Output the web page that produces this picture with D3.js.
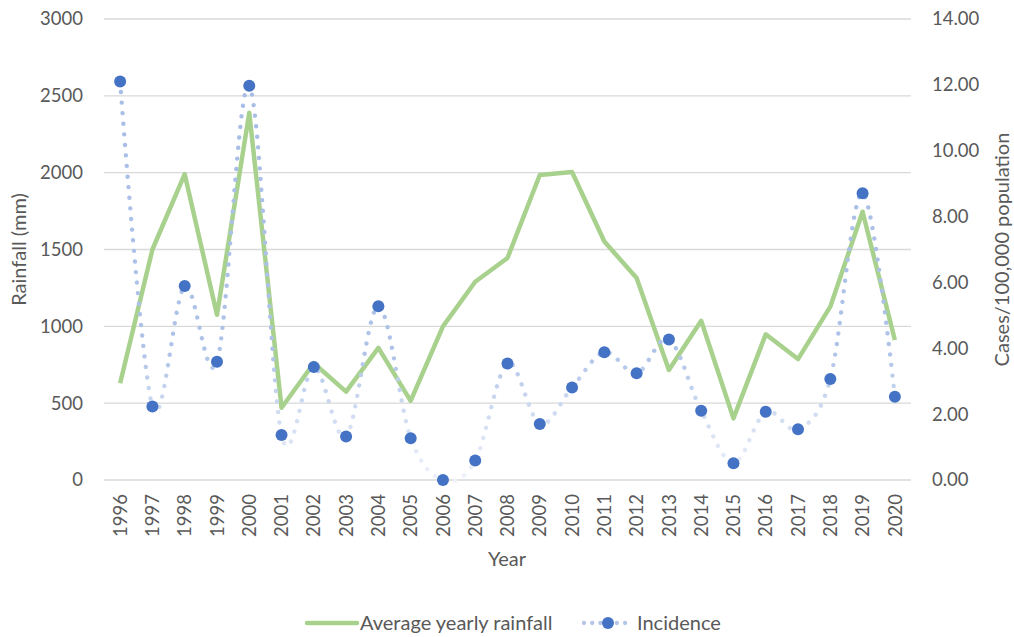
<!DOCTYPE html>
<html>
<head>
<meta charset="utf-8">
<script src="https://cdn.jsdelivr.net/npm/d3@7"></script>
<style>
  html, body { margin: 0; padding: 0; background: #fff; }
  svg text { font-family: Lato, "Open Sans", "Liberation Sans", sans-serif; fill: #595959; }
</style>
</head>
<body>
<svg id="chart" width="1014" height="637"></svg>
<script>
// Years on the category axis
const years = ["1996","1997","1998","1999","2000","2001","2002","2003","2004","2005","2006","2007","2008",
  "2009","2010","2011","2012","2013","2014","2015","2016","2017","2018","2019","2020"];

// Average yearly rainfall (mm), left axis
const rainfall = [630, 1500, 1990, 1075, 2390, 470, 760, 575, 860, 515, 1000, 1290, 1445,
  1985, 2004, 1552, 1314, 716, 1036, 401, 948, 787, 1128, 1746, 911];

// Incidence (cases per 100,000 population), right axis
const incidence = [12.10, 2.23, 5.89, 3.59, 11.97, 1.37, 3.43, 1.32, 5.28, 1.27, 0.00, 0.59, 3.54,
  1.70, 2.81, 3.88, 3.24, 4.27, 2.10, 0.51, 2.07, 1.54, 3.07, 8.71, 2.53];

const leftTicks = [0, 500, 1000, 1500, 2000, 2500, 3000];
const rightTicks = [0, 2, 4, 6, 8, 10, 12, 14];

const svg = d3.select("#chart");
const plot = { left: 104, right: 911, top: 19, bottom: 480 };

const x = d3.scaleBand().domain(years).range([plot.left, plot.right]);
const xc = d => x(d) + x.bandwidth() / 2;
const yL = d3.scaleLinear().domain([0, 3000]).range([plot.bottom, plot.top]);
const yR = d3.scaleLinear().domain([0, 14]).range([plot.bottom, plot.top]);

// Gradient for the dotted incidence line: fades out toward the baseline
const defs = svg.append("defs");
const grad = defs.append("linearGradient")
  .attr("id", "incGrad")
  .attr("gradientUnits", "userSpaceOnUse")
  .attr("x1", 0).attr("x2", 0)
  .attr("y1", plot.top).attr("y2", plot.bottom);
grad.append("stop").attr("offset", "0%").attr("stop-color", "#a6bce6");
grad.append("stop").attr("offset", "72%").attr("stop-color", "#afc3e8");
grad.append("stop").attr("offset", "85%").attr("stop-color", "#cfdbf1");
grad.append("stop").attr("offset", "100%").attr("stop-color", "#eef2fa");

// Gridlines
svg.append("g")
  .selectAll("line")
  .data(leftTicks)
  .join("line")
  .attr("x1", plot.left).attr("x2", plot.right)
  .attr("y1", d => yL(d)).attr("y2", d => yL(d))
  .attr("stroke", "#d9d9d9").attr("stroke-width", 1.3);

// Left axis
const axL = svg.append("g")
  .attr("transform", `translate(${plot.left - 21},0)`)
  .call(d3.axisLeft(yL).tickValues(leftTicks).tickSize(0).tickPadding(0).tickFormat(d3.format("d")));
axL.select(".domain").remove();
axL.selectAll("text").style("font-size", "18.5px").attr("fill", "#595959");

// Right axis
const axR = svg.append("g")
  .attr("transform", `translate(${plot.right + 21},0)`)
  .call(d3.axisRight(yR).tickValues(rightTicks).tickSize(0).tickPadding(0).tickFormat(d3.format(".2f")));
axR.select(".domain").remove();
axR.selectAll("text").style("font-size", "18.5px").attr("fill", "#595959");

// Bottom axis with rotated year labels
const axB = svg.append("g")
  .attr("transform", `translate(0,${plot.bottom})`)
  .call(d3.axisBottom(x).tickSize(0).tickPadding(0));
axB.select(".domain").remove();
axB.selectAll("text")
  .style("font-size", "18.5px")
  .attr("fill", "#595959")
  .attr("transform", "rotate(-90)")
  .attr("text-anchor", "end")
  .attr("x", -14)
  .attr("y", 0)
  .attr("dy", "0.36em");

// Axis titles
svg.append("text")
  .attr("transform", `translate(26,${(plot.top + plot.bottom) / 2}) rotate(-90)`)
  .attr("text-anchor", "middle")
  .style("font-size", "20px")
  .text("Rainfall (mm)");

svg.append("text")
  .attr("transform", `translate(1009,${(plot.top + plot.bottom) / 2}) rotate(-90)`)
  .attr("text-anchor", "middle")
  .style("font-size", "20px")
  .text("Cases/100,000 population");

svg.append("text")
  .attr("x", 507).attr("y", 566)
  .attr("text-anchor", "middle")
  .style("font-size", "20px")
  .text("Year");

// Rainfall line
const lineRain = d3.line().x((d, i) => xc(years[i])).y(d => yL(d));
svg.append("path")
  .datum(rainfall)
  .attr("d", lineRain)
  .attr("fill", "none")
  .attr("stroke", "#a9d18e")
  .attr("stroke-width", 4.5)
  .attr("stroke-linejoin", "round");

// Incidence smoothed dotted line
const lineInc = d3.line().x((d, i) => xc(years[i])).y(d => yR(d)).curve(d3.curveCardinal.tension(0));
svg.append("path")
  .datum(incidence)
  .attr("d", lineInc)
  .attr("fill", "none")
  .attr("stroke", "url(#incGrad)")
  .attr("stroke-width", 4.4)
  .attr("stroke-linecap", "round")
  .attr("stroke-dasharray", "0.01 10.6");

// Incidence markers
svg.append("g")
  .selectAll("circle")
  .data(incidence)
  .join("circle")
  .attr("cx", (d, i) => xc(years[i]))
  .attr("cy", d => yR(d))
  .attr("r", 6)
  .attr("fill", "#4472c4");

// Legend
const lg = svg.append("g");
lg.append("line")
  .attr("x1", 307).attr("x2", 357).attr("y1", 623).attr("y2", 623)
  .attr("stroke", "#a9d18e").attr("stroke-width", 4.5).attr("stroke-linecap", "round");
lg.append("text").attr("x", 360).attr("y", 630).style("font-size", "20px").text("Average yearly rainfall");

lg.append("line")
  .attr("x1", 584).attr("x2", 632).attr("y1", 623).attr("y2", 623)
  .attr("stroke", "#b3c6e8").attr("stroke-width", 4.3)
  .attr("stroke-linecap", "round").attr("stroke-dasharray", "0.01 8.2");
lg.append("circle").attr("cx", 608).attr("cy", 623).attr("r", 6).attr("fill", "#4472c4");
lg.append("text").attr("x", 637).attr("y", 630).style("font-size", "20px").text("Incidence");
</script>
</body>
</html>
